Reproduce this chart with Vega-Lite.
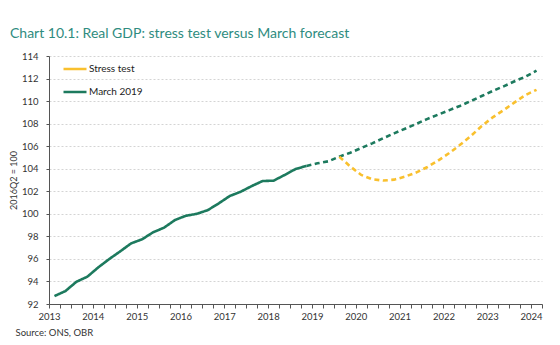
{
  "$schema": "https://vega.github.io/schema/vega-lite/v6.json",
  "autosize": "none",
  "width": 493,
  "height": 248,
  "padding": {"left": 49, "top": 56, "right": 18, "bottom": 41},
  "title": {
    "text": "Chart 10.1: Real GDP: stress test versus March forecast",
    "anchor": "start",
    "frame": "group",
    "dx": -39,
    "offset": 10,
    "font": "Lato",
    "fontSize": 14,
    "fontWeight": "normal",
    "color": "#2f8c80"
  },
  "config": {
    "view": {"stroke": null},
    "font": "Lato"
  },
  "data": {
    "values": [
      {"t": 2013.0, "series": "March 2019", "kind": "outturn", "value": 92.7},
      {"t": 2013.25, "series": "March 2019", "kind": "outturn", "value": 93.15},
      {"t": 2013.5, "series": "March 2019", "kind": "outturn", "value": 93.97},
      {"t": 2013.75, "series": "March 2019", "kind": "outturn", "value": 94.42},
      {"t": 2014.0, "series": "March 2019", "kind": "outturn", "value": 95.25},
      {"t": 2014.25, "series": "March 2019", "kind": "outturn", "value": 95.99},
      {"t": 2014.5, "series": "March 2019", "kind": "outturn", "value": 96.67},
      {"t": 2014.75, "series": "March 2019", "kind": "outturn", "value": 97.38},
      {"t": 2015.0, "series": "March 2019", "kind": "outturn", "value": 97.74},
      {"t": 2015.25, "series": "March 2019", "kind": "outturn", "value": 98.36},
      {"t": 2015.5, "series": "March 2019", "kind": "outturn", "value": 98.77},
      {"t": 2015.75, "series": "March 2019", "kind": "outturn", "value": 99.45},
      {"t": 2016.0, "series": "March 2019", "kind": "outturn", "value": 99.83},
      {"t": 2016.25, "series": "March 2019", "kind": "outturn", "value": 100.0},
      {"t": 2016.5, "series": "March 2019", "kind": "outturn", "value": 100.33},
      {"t": 2016.75, "series": "March 2019", "kind": "outturn", "value": 100.93},
      {"t": 2017.0, "series": "March 2019", "kind": "outturn", "value": 101.58},
      {"t": 2017.25, "series": "March 2019", "kind": "outturn", "value": 101.96},
      {"t": 2017.5, "series": "March 2019", "kind": "outturn", "value": 102.46},
      {"t": 2017.75, "series": "March 2019", "kind": "outturn", "value": 102.91},
      {"t": 2018.0, "series": "March 2019", "kind": "outturn", "value": 102.94},
      {"t": 2018.25, "series": "March 2019", "kind": "outturn", "value": 103.44},
      {"t": 2018.5, "series": "March 2019", "kind": "outturn", "value": 103.97},
      {"t": 2018.75, "series": "March 2019", "kind": "outturn", "value": 104.25},
      {"t": 2018.75, "series": "March 2019", "kind": "forecast", "value": 104.25},
      {"t": 2019.0, "series": "March 2019", "kind": "forecast", "value": 104.48},
      {"t": 2019.25, "series": "March 2019", "kind": "forecast", "value": 104.66},
      {"t": 2019.5, "series": "March 2019", "kind": "forecast", "value": 105.07},
      {"t": 2019.75, "series": "March 2019", "kind": "forecast", "value": 105.42},
      {"t": 2020.0, "series": "March 2019", "kind": "forecast", "value": 105.84},
      {"t": 2020.25, "series": "March 2019", "kind": "forecast", "value": 106.25},
      {"t": 2020.5, "series": "March 2019", "kind": "forecast", "value": 106.7},
      {"t": 2020.75, "series": "March 2019", "kind": "forecast", "value": 107.14},
      {"t": 2021.0, "series": "March 2019", "kind": "forecast", "value": 107.55},
      {"t": 2021.25, "series": "March 2019", "kind": "forecast", "value": 107.97},
      {"t": 2021.5, "series": "March 2019", "kind": "forecast", "value": 108.4},
      {"t": 2021.75, "series": "March 2019", "kind": "forecast", "value": 108.79},
      {"t": 2022.0, "series": "March 2019", "kind": "forecast", "value": 109.18},
      {"t": 2022.25, "series": "March 2019", "kind": "forecast", "value": 109.57},
      {"t": 2022.5, "series": "March 2019", "kind": "forecast", "value": 110.0},
      {"t": 2022.75, "series": "March 2019", "kind": "forecast", "value": 110.45},
      {"t": 2023.0, "series": "March 2019", "kind": "forecast", "value": 110.9},
      {"t": 2023.25, "series": "March 2019", "kind": "forecast", "value": 111.31},
      {"t": 2023.5, "series": "March 2019", "kind": "forecast", "value": 111.76},
      {"t": 2023.75, "series": "March 2019", "kind": "forecast", "value": 112.17},
      {"t": 2024.0, "series": "March 2019", "kind": "forecast", "value": 112.7},
      {"t": 2019.5, "series": "Stress test", "kind": "forecast", "value": 105.07},
      {"t": 2019.75, "series": "Stress test", "kind": "forecast", "value": 104.2},
      {"t": 2020.0, "series": "Stress test", "kind": "forecast", "value": 103.45},
      {"t": 2020.25, "series": "Stress test", "kind": "forecast", "value": 103.07},
      {"t": 2020.5, "series": "Stress test", "kind": "forecast", "value": 102.95},
      {"t": 2020.75, "series": "Stress test", "kind": "forecast", "value": 103.03},
      {"t": 2021.0, "series": "Stress test", "kind": "forecast", "value": 103.3},
      {"t": 2021.25, "series": "Stress test", "kind": "forecast", "value": 103.66},
      {"t": 2021.5, "series": "Stress test", "kind": "forecast", "value": 104.13},
      {"t": 2021.75, "series": "Stress test", "kind": "forecast", "value": 104.71},
      {"t": 2022.0, "series": "Stress test", "kind": "forecast", "value": 105.37},
      {"t": 2022.25, "series": "Stress test", "kind": "forecast", "value": 106.1},
      {"t": 2022.5, "series": "Stress test", "kind": "forecast", "value": 106.9},
      {"t": 2022.75, "series": "Stress test", "kind": "forecast", "value": 107.79},
      {"t": 2023.0, "series": "Stress test", "kind": "forecast", "value": 108.56},
      {"t": 2023.25, "series": "Stress test", "kind": "forecast", "value": 109.2},
      {"t": 2023.5, "series": "Stress test", "kind": "forecast", "value": 109.89},
      {"t": 2023.75, "series": "Stress test", "kind": "forecast", "value": 110.54},
      {"t": 2024.0, "series": "Stress test", "kind": "forecast", "value": 111.0}
    ]
  },
  "mark": {"type": "line", "strokeWidth": 2.6, "strokeCap": "butt"},
  "encoding": {
    "x": {
      "field": "t",
      "type": "quantitative",
      "scale": {"domain": [2012.875, 2024.125], "nice": false, "zero": false},
      "axis": {
        "values": [2012.875, 2013.125, 2013.375, 2013.625, 2013.875, 2014.125, 2014.375, 2014.625, 2014.875, 2015.125, 2015.375, 2015.625, 2015.875, 2016.125, 2016.375, 2016.625, 2016.875, 2017.125, 2017.375, 2017.625, 2017.875, 2018.125, 2018.375, 2018.625, 2018.875, 2019.125, 2019.375, 2019.625, 2019.875, 2020.125, 2020.375, 2020.625, 2020.875, 2021.125, 2021.375, 2021.625, 2021.875, 2022.125, 2022.375, 2022.625, 2022.875, 2023.125, 2023.375, 2023.625, 2023.875, 2024.125],
        "labelExpr": "(datum.value + 0.125) % 1 == 0 ? format(datum.value + 0.125, 'd') : ''",
        "labelDx": 5.5,
        "labelFlush": false,
        "labelOverlap": false,
        "labelBound": false,
        "labelFont": "Lato",
        "labelFontSize": 9.5,
        "labelColor": "#333333",
        "labelPadding": 3,
        "tickSize": 4,
        "tickColor": "#555555",
        "domainColor": "#555555",
        "grid": false,
        "title": "Source: ONS, OBR",
        "titleAnchor": "start",
        "titleAlign": "left",
        "titleX": -34,
        "titleY": 31,
        "titleBaseline": "alphabetic",
        "titleFont": "Lato",
        "titleFontSize": 9.5,
        "titleFontWeight": "normal",
        "titleColor": "#333333"
      }
    },
    "y": {
      "field": "value",
      "type": "quantitative",
      "scale": {"domain": [92, 114], "nice": false, "zero": false},
      "axis": {
        "values": [92, 94, 96, 98, 100, 102, 104, 106, 108, 110, 112, 114],
        "labelFont": "Lato",
        "labelFontSize": 9.5,
        "labelColor": "#333333",
        "labelPadding": 8,
        "tickSize": 3,
        "tickColor": "#555555",
        "domainColor": "#555555",
        "grid": true,
        "gridColor": "#d4d4d4",
        "gridDash": [2, 2],
        "gridWidth": 1,
        "title": "2016Q2 = 100",
        "titleFont": "Lato",
        "titleFontSize": 9,
        "titleFontWeight": "normal",
        "titleColor": "#333333",
        "titlePadding": 3
      }
    },
    "color": {
      "field": "series",
      "type": "nominal",
      "scale": {"domain": ["Stress test", "March 2019"], "range": ["#f9c02e", "#1d7a5e"]},
      "legend": {
        "title": null,
        "orient": "none",
        "legendX": 13,
        "legendY": 0,
        "symbolType": "stroke",
        "symbolSize": 529,
        "symbolStrokeWidth": 2.6,
        "symbolDash": [1, 0],
        "labelFont": "Lato",
        "labelFontSize": 10,
        "labelColor": "#222222",
        "labelOffset": 1,
        "rowPadding": 4
      }
    },
    "strokeDash": {
      "field": "kind",
      "type": "nominal",
      "scale": {"domain": ["outturn", "forecast"], "range": [[1, 0], [5, 3.5]]},
      "legend": null
    }
  }
}
